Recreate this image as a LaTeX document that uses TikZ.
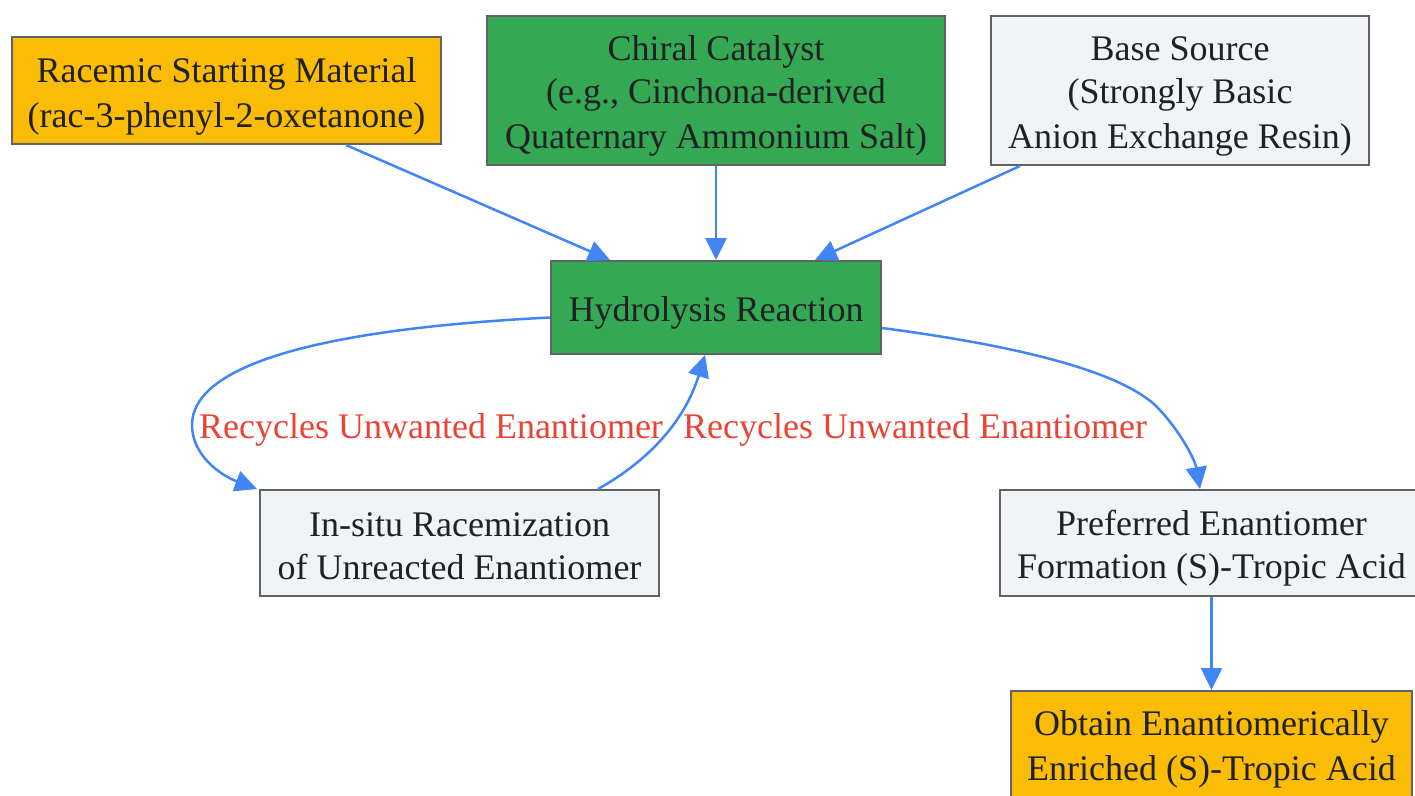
\documentclass[tikz,border=0pt]{standalone}
\usepackage{fontspec}
\setmainfont{Liberation Serif}
\usetikzlibrary{arrows.meta,positioning}
\definecolor{gyellow}{HTML}{FBBC05}
\definecolor{ggreen}{HTML}{34A853}
\definecolor{ggrey}{HTML}{F1F3F4}
\definecolor{gblue}{HTML}{4285F4}
\definecolor{gred}{HTML}{EA4335}
\definecolor{gedge}{HTML}{5F6368}
\definecolor{gtext}{HTML}{202124}
% line box of 43pt, baseline placed as in the reference
\newcommand{\ls}{\rule[-6.8pt]{0pt}{43pt}}

\tikzset{
    box/.style={draw=gedge, line width=2pt, align=center, inner sep=0pt,
        text=gtext, font=\fontsize{36}{43}\selectfont},
    flow/.style={draw=gblue, line width=2.5pt,
        -{Triangle[length=22pt,width=21pt]}},
    edgelabel/.style={text=gred, font=\fontsize{36}{43}\selectfont, inner sep=0pt}
}

\begin{document}
\begin{tikzpicture}[x=1pt, y=-1pt]
    \useasboundingbox (0,0) rectangle (1415,795);

    % Inputs
    \node[box, fill=gyellow, minimum width=429pt, minimum height=107pt] (racemic) at (226.5,90.5)
        {\ls Racemic Starting Material\\(rac-3-phenyl-2-oxetanone)\ls};
    \node[box, fill=ggreen, minimum width=458pt, minimum height=149pt] (catalyst) at (716,90.5)
        {\ls Chiral Catalyst\\(e.g., Cinchona-derived\\Quaternary Ammonium Salt)\ls};
    \node[box, fill=ggrey, minimum width=378pt, minimum height=149pt] (base) at (1180,90.5)
        {\ls Base Source\\(Strongly Basic\\Anion Exchange Resin)\ls};

    % Reaction
    \node[box, fill=ggreen, minimum width=330pt, minimum height=93pt] (hydrolysis) at (716,307.5)
        {\ls Hydrolysis Reaction\ls};

    % Products
    \node[box, fill=ggrey, minimum width=399pt, minimum height=106pt] (racemization) at (459.5,543)
        {\ls In-situ Racemization\\of Unreacted Enantiomer\ls};
    \node[box, fill=ggrey, minimum width=423pt, minimum height=106pt] (preferred) at (1211.5,543)
        {\ls Preferred Enantiomer\\Formation (S)-Tropic Acid\ls};
    \node[box, fill=gyellow, minimum width=401pt, minimum height=106pt] (obtain) at (1211.5,744)
        {\ls Obtain Enantiomerically\\Enriched (S)-Tropic Acid\ls};

    % Edge labels
    \node[edgelabel] (recycleA) at (431,424) {\ls Recycles Unwanted Enantiomer};
    \node[edgelabel] (recycleB) at (915,424) {\ls Recycles Unwanted Enantiomer};

    % Connectors
    \draw[flow] ([xshift=119.5pt]racemic.south) -- ([xshift=-106pt]hydrolysis.north);
    \draw[flow] (catalyst.south) -- (hydrolysis.north);
    \draw[flow] ([xshift=-160pt]base.south) -- ([xshift=99pt]hydrolysis.north);
    \draw[flow] ([yshift=-10pt]hydrolysis.west) .. controls (300,330) and (192,370) .. (192,425)
        .. controls (192,455) and (220,475) .. ([xshift=-2pt]racemization.north west);
    \draw[flow] ([xshift=138.5pt]racemization.north) .. controls (650,460) and (685,420) .. ([xshift=-11pt]hydrolysis.south);
    \draw[flow] ([yshift=-20.5pt]hydrolysis.east) .. controls (1050,350) and (1125,378) .. (1155,405)
        .. controls (1180,430) and (1195,460) .. ([xshift=-11.5pt]preferred.north);
    \draw[flow] (preferred.south) -- (obtain.north);
\end{tikzpicture}
\end{document}
